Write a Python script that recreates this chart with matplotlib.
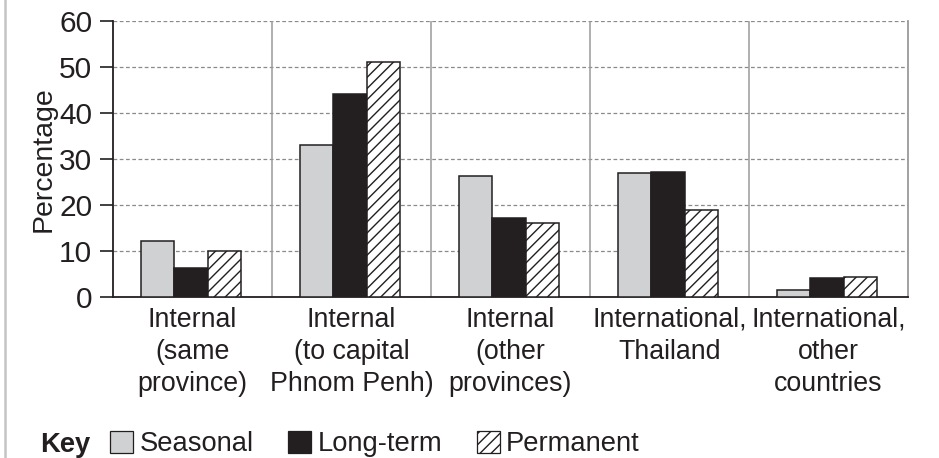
import numpy as np
import matplotlib
matplotlib.use("Agg")
import matplotlib.pyplot as plt
from matplotlib.patches import Patch
from matplotlib.lines import Line2D

plt.rcParams["font.family"] = ["Liberation Sans", "DejaVu Sans"]
plt.rcParams["hatch.linewidth"] = 1.0

# Migration destination by type of migrant (%)
categories = [
    "Internal\n(same\nprovince)",
    "Internal\n(to capital\nPhnom Penh)",
    "Internal\n(other\nprovinces)",
    "International,\nThailand",
    "International,\nother\ncountries",
]
seasonal = [12.2, 33.0, 26.3, 27.0, 1.5]
long_term = [6.2, 44.1, 17.1, 27.2, 4.1]
permanent = [10.1, 51.1, 16.1, 19.0, 4.3]

series_names = ["Seasonal", "Long-term", "Permanent"]
yticks = [0, 10, 20, 30, 40, 50, 60]

edge = "#231f20"

fig = plt.figure(figsize=(9.39, 4.58), dpi=100)
ax = fig.add_axes([113 / 939, 1 - 297 / 458, 795 / 939, 276 / 458])

x = np.arange(len(categories))
w = 0.21
styles = [
    dict(color="#d0d1d3", hatch=None),
    dict(color=edge, hatch=None),
    dict(color="white", hatch="///"),
]
for i, vals in enumerate([seasonal, long_term, permanent]):
    ax.bar(x + (i - 1) * w - 0.01, vals, w, color=styles[i]["color"],
           hatch=styles[i]["hatch"], edgecolor=edge, linewidth=1.1, zorder=3)

ax.set_xlim(-0.5, len(categories) - 0.5)
ax.set_ylim(0, 60)
ax.set_yticks(yticks)
ax.tick_params(axis="y", labelsize=21.5, length=9.5, width=1.2, pad=5.5,
               color=edge, labelcolor="#231f20")
ax.set_xticks(x)
ax.set_xticklabels(categories, fontsize=19.3, linespacing=1.3, color="#231f20")
ax.tick_params(axis="x", length=0, pad=7)
ax.set_ylabel("Percentage", fontsize=20.5, color="#231f20")
ax.yaxis.set_label_coords(-56 / 795, 0.5)

# dashed horizontal gridlines and solid group separators
for yv in yticks[1:]:
    ax.axhline(yv, color="#8a8a8a", linestyle=(0, (3, 2)), linewidth=0.9, zorder=1)
for xv in x[1:] - 0.5:
    ax.axvline(xv, color="#9a9a9a", linewidth=1.1, zorder=1)

ax.spines["top"].set_visible(False)
ax.spines["right"].set_color("#9a9a9a")
ax.spines["right"].set_linewidth(1.3)
ax.spines["left"].set_color(edge)
ax.spines["left"].set_linewidth(1.3)
ax.spines["bottom"].set_color(edge)
ax.spines["bottom"].set_linewidth(1.3)

# key
handles = [Patch(facecolor=styles[i]["color"], hatch=styles[i]["hatch"],
                 edgecolor=edge, linewidth=0.9) for i in range(3)]
fig.text(40 / 939, 1 - 445 / 458, "Key", fontsize=19.7, fontweight="bold",
         va="center", ha="left", color="#231f20")
fig.legend(handles, series_names, loc="center left",
           bbox_to_anchor=(110 / 939, 1 - 444 / 458), ncol=3, frameon=False,
           fontsize=19.7, handlelength=0.85, handleheight=0.85, handletextpad=0.22,
           columnspacing=1.27, borderpad=0, borderaxespad=0, labelcolor="#231f20")

# left border of the figure panel
fig.add_artist(Line2D([5 / 939, 5 / 939], [0, 1], color="#c4c4c4", linewidth=1.8))

fig.savefig("out.png", dpi=100)
